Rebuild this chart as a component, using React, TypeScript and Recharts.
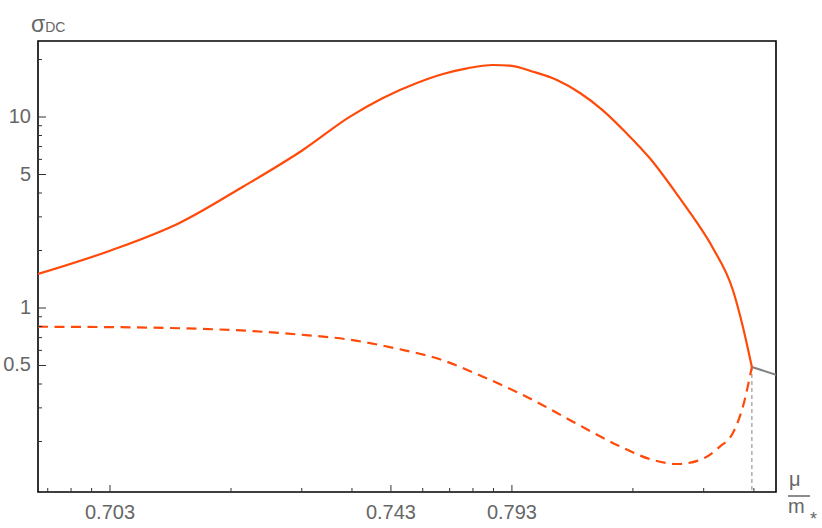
import { LineChart, Line, XAxis, YAxis, ReferenceArea, ReferenceLine } from 'recharts';

// x is (mu/m* - 0.693) * 100, drawn on a log axis; labels show mu/m*
const upperX = [0.662, 1, 1.493, 2.142, 3.02, 3.955, 4.776, 5.8, 6.74, 7.73, 8.97, 9.89, 11.28, 12.94, 14.77, 16.72, 19.29, 22.04, 26.18, 28.2, 31.62, 35.46, 37.55, 39.54];
const upperY = [1.507, 1.995, 2.797, 4.316, 6.72, 10.04, 12.58, 15.07, 16.8, 17.99, 18.72, 18.56, 17.27, 15.62, 13.36, 10.97, 8.22, 6.08, 3.75, 3.006, 2.061, 1.242, 0.798, 0.491];

const lowerX = [0.662, 1.121, 1.643, 2.188, 2.913, 3.88, 5.265, 6.62, 8.47, 11.28, 14.18, 18.25, 22.43, 25.73, 29.36, 32.91, 35.46, 37.55, 39.54];
const lowerY = [0.798, 0.792, 0.779, 0.76, 0.728, 0.686, 0.608, 0.539, 0.437, 0.33, 0.254, 0.192, 0.16, 0.1525, 0.16, 0.188, 0.2216, 0.304, 0.491];

const tailX = [39.54, 45.4];
const tailY = [0.491, 0.447];

const xDomain = [0.662, 45.4];
const yDomain = [0.1088, 25];

const xMajor = [1, 5, 10];
const xMinor = [0.7, 0.8, 0.9, 2, 3, 4, 6, 7, 8, 9, 20, 30, 40];
const yMajor = [0.5, 1, 5, 10];
const yMinor = [0.2, 0.3, 0.4, 0.6, 0.7, 0.8, 0.9, 2, 3, 4, 6, 7, 8, 9, 20];

const toRows = (xs: number[], ys: number[]) => xs.map((x, i) => ({ x, y: ys[i] }));
const upper = toRows(upperX, upperY);
const lower = toRows(lowerX, lowerY);
const tail = toRows(tailX, tailY);

const orange = '#ff4a0a';
const grey = '#666666';

const XTick = (props: any) => {
  const { x, y, payload } = props;
  const major = xMajor.includes(payload.value);
  return (
    <g>
      <line x1={x} x2={x} y1={y} y2={y - (major ? 7 : 4)} stroke="#333" strokeWidth={1} />
      {major && (
        <text x={x} y={y + 27} textAnchor="middle" fontSize={20} fill={grey}>
          {(0.693 + payload.value / 100).toFixed(3)}
        </text>
      )}
    </g>
  );
};

const YTick = (props: any) => {
  const { x, y, payload } = props;
  const major = yMajor.includes(payload.value);
  return (
    <g>
      <line x1={x} x2={x + (major ? 8 : 4)} y1={y} y2={y} stroke="#333" strokeWidth={1} />
      {major && (
        <text x={x - 7} y={y + 6} textAnchor="end" fontSize={20} fill={grey}>
          {payload.value}
        </text>
      )}
    </g>
  );
};

export default function App() {
  return (
    <div style={{ position: 'absolute', left: 0, top: 0, width: 822, height: 528, background: '#fff', fontFamily: '"Liberation Sans", Arial, sans-serif' }}>
      <LineChart width={822} height={528} margin={{ top: 41, right: 46, bottom: 0, left: 0 }}>
        <XAxis
          dataKey="x"
          type="number"
          scale="log"
          domain={xDomain}
          allowDataOverflow
          ticks={[...xMinor, ...xMajor].sort((a, b) => a - b)}
          interval={0}
          tick={<XTick />}
          tickLine={false}
          tickSize={0}
          tickMargin={0}
          axisLine={false}
          height={36}
        />
        <YAxis
          dataKey="y"
          type="number"
          scale="log"
          domain={yDomain}
          allowDataOverflow
          ticks={[...yMinor, ...yMajor].sort((a, b) => a - b)}
          interval={0}
          tick={<YTick />}
          tickLine={false}
          tickSize={0}
          tickMargin={0}
          axisLine={false}
          width={38}
        />
        <ReferenceArea x1={xDomain[0]} x2={xDomain[1]} y1={yDomain[0]} y2={yDomain[1]} fill="none" stroke="#000" strokeWidth={1.6} />
        <ReferenceLine
          segment={[{ x: 39.54, y: 0.491 }, { x: 39.54, y: yDomain[0] }]}
          stroke="#999"
          strokeWidth={1.2}
          strokeDasharray="4 3"
        />
        <Line data={tail} dataKey="y" type="linear" stroke="#808080" strokeWidth={2} dot={false} isAnimationActive={false} />
        <Line data={lower} dataKey="y" type="monotone" stroke={orange} strokeWidth={2.2} strokeDasharray="10 6.5" dot={false} isAnimationActive={false} />
        <Line data={upper} dataKey="y" type="monotone" stroke={orange} strokeWidth={2.2} dot={false} isAnimationActive={false} />
      </LineChart>
      <svg width={822} height={528} style={{ position: 'absolute', left: 0, top: 0, pointerEvents: 'none' }}>
        <text x={31} y={32} fontSize={23} fill={grey}>
          σ<tspan fontSize={14}>DC</tspan>
        </text>
        <text x={789} y={486} fontSize={20} fill={grey}>μ</text>
        <line x1={788} x2={810} y1={496} y2={496} stroke={grey} strokeWidth={1.5} />
        <text x={788} y={513} fontSize={20} fill={grey}>m</text>
        <text x={810} y={525} fontSize={18} fill={grey}>*</text>
      </svg>
    </div>
  );
}
